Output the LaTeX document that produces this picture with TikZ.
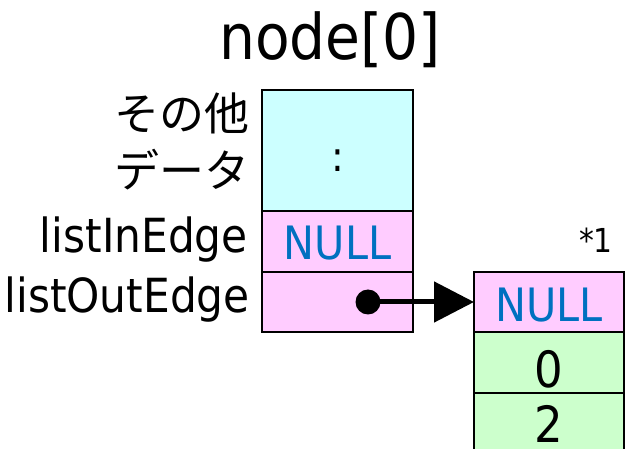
\documentclass[tikz,border=0pt]{standalone}
\usepackage{fontspec}
\setmainfont{DejaVu Sans}[FakeStretch=0.9]
\newfontfamily\jpfont{Noto Sans CJK JP}
\usetikzlibrary{arrows.meta}
\definecolor{cellcyan}{HTML}{CCFFFF}
\definecolor{cellpink}{HTML}{FFCCFF}
\definecolor{cellgreen}{HTML}{CCFFCC}
\definecolor{nullblue}{HTML}{0070C0}
\newcommand{\fs}[1]{\fontsize{#1}{#1}\selectfont}
\tikzset{
  cell/.style={draw=black, line width=2.4pt, minimum width=151pt, inner sep=0pt, outer sep=0pt},
  label/.style={inner sep=0pt, anchor=base east},
  nulltext/.style={text=nullblue, font=\fs{46}},
  border/.style={line width=2.4pt},
  ptr/.style={line width=5pt, -{Triangle[length=40pt, width=40pt]}}
}
\begin{document}
\begin{tikzpicture}[x=1pt, y=-1pt]
  \useasboundingbox (0,0) rectangle (625,449);
  \clip (0,0) rectangle (625,449);

  % title
  \node[inner sep=0pt, anchor=base, font=\fs{63}] (title) at (330,60) {node[0]};

  % record of node[0]
  \node[cell, fill=cellcyan, minimum height=121pt] (other) at (337.5,150.5) {};
  \node[inner sep=0pt, font=\fs{42}] (dots) at (337.5,161) {:};
  \node[cell, fill=cellpink, minimum height=61pt, nulltext, text height=37pt, text depth=0pt] (inedge) at (337.5,241.5) {NULL};
  \node[cell, fill=cellpink, minimum height=60pt] (outedge) at (337.5,302) {};

  % field names
  \node[label, font=\jpfont\fs{45}] (lblother1) at (250,131) {その他};
  \node[label, font=\jpfont\fs{45}] (lblother2) at (250,188) {データ};
  \node[label, font=\fs{47}] (lblin) at (248,253) {listInEdge};
  \node[label, font=\fs{47}] (lblout) at (250,313) {listOutEdge};

  % edge list element (the last cell runs past the lower edge)
  \node[fill=cellgreen, minimum width=150pt, minimum height=54pt, inner sep=0pt, outer sep=0pt, font=\fs{50}, text height=46pt, text depth=0pt] (eto) at (549,420) {2};
  \fill[cellgreen] (eto.south west) rectangle ([yshift=-6pt]eto.south east);
  \node[cell, fill=cellpink, minimum width=150pt, minimum height=60pt, nulltext, text height=40pt, text depth=0pt] (enext) at (549,302) {NULL};
  \node[cell, fill=cellgreen, minimum width=150pt, minimum height=61pt, font=\fs{50}, text height=51pt, text depth=0pt] (efrom) at (549,362.5) {0};
  \draw[border] (eto.north west) -- ([yshift=-6pt]eto.south west);
  \draw[border] (eto.north east) -- ([yshift=-6pt]eto.south east);
  \node[inner sep=0pt, anchor=base east, font=\fs{33}] (note) at (613,253) {*1};

  % pointer
  \node[circle, fill=black, minimum size=25pt, inner sep=0pt] (dot) at (368,302) {};
  \draw[ptr] (dot.center) -- (enext.west);
\end{tikzpicture}
\end{document}
